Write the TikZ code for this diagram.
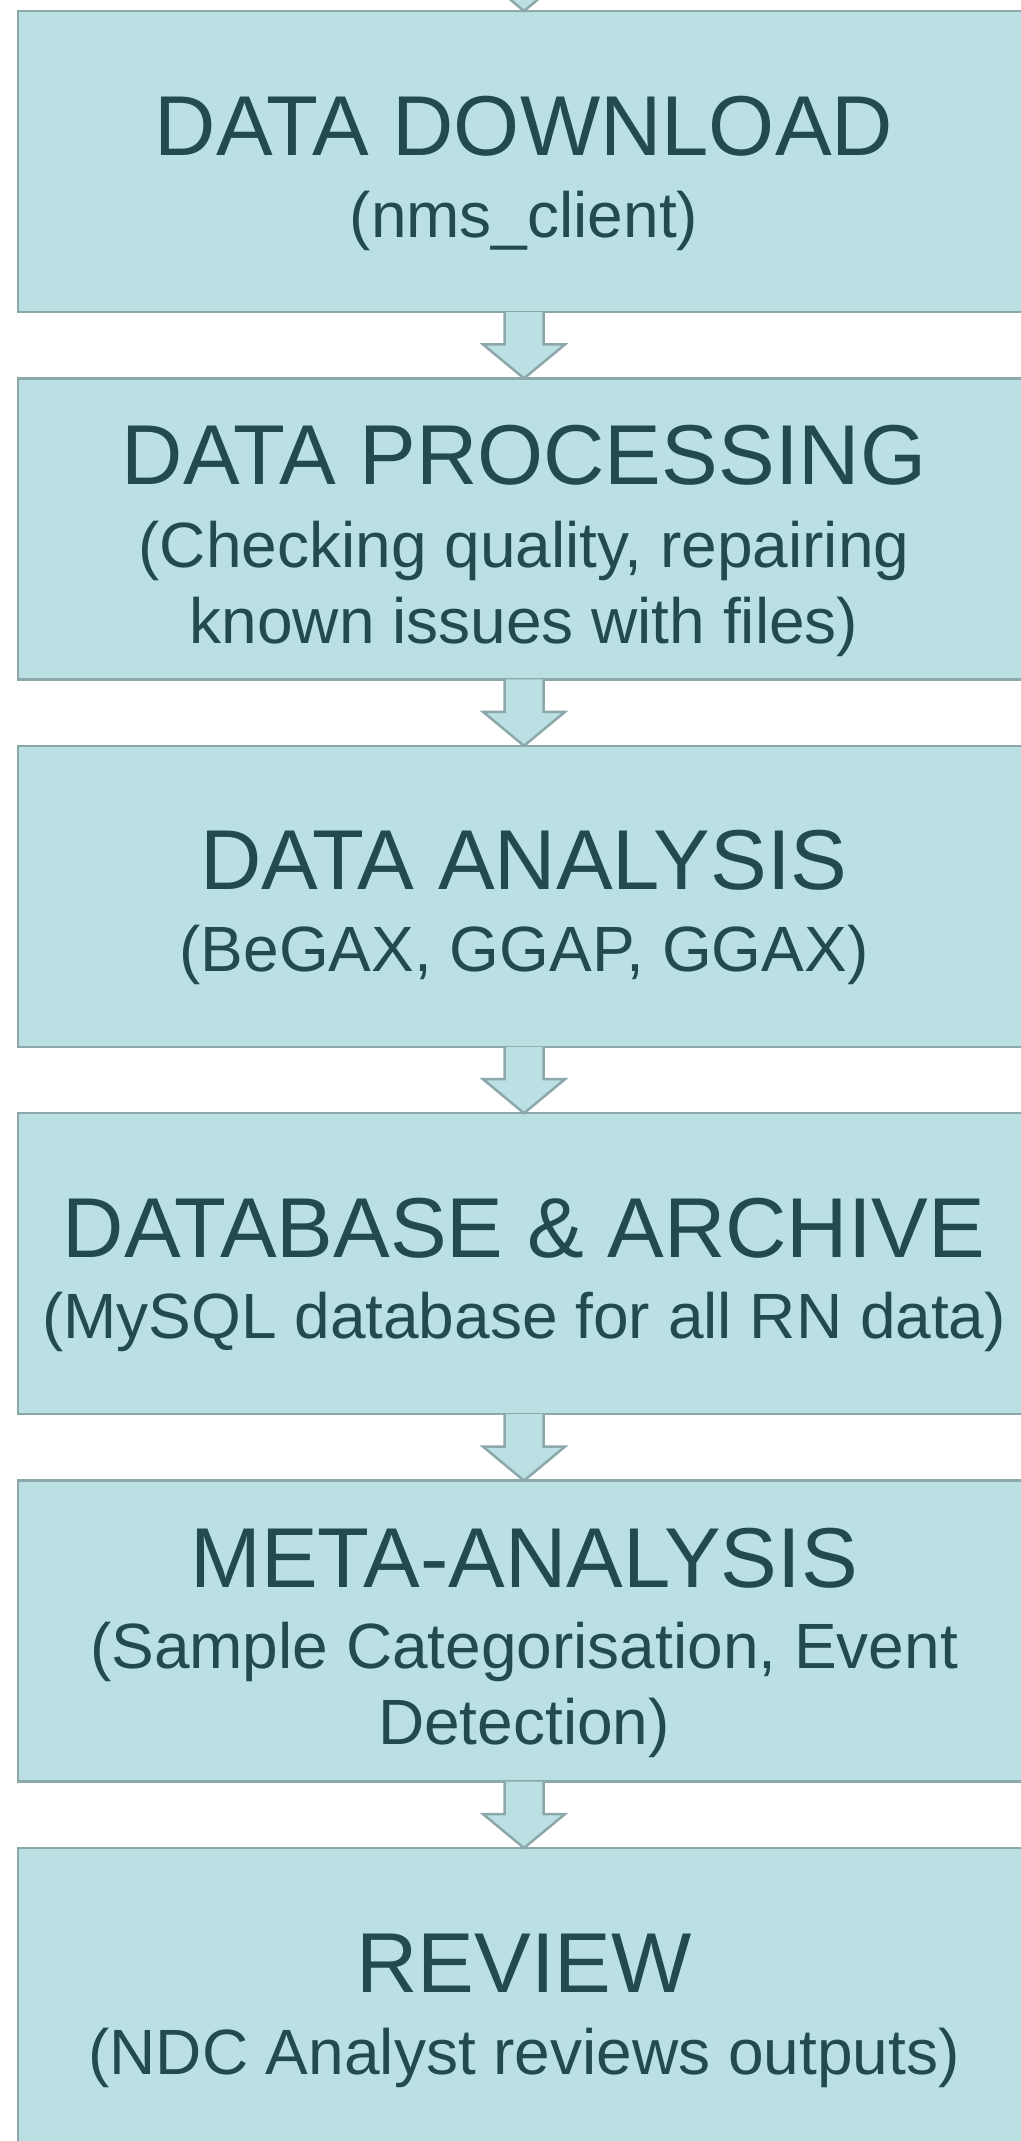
\documentclass[tikz,border=0pt]{standalone}
\usepackage{fontspec}
\setmainfont{Liberation Sans}
\usetikzlibrary{calc}
\definecolor{stagefill}{RGB}{186,224,227}
\definecolor{stageline}{RGB}{140,168,170}
\definecolor{stagetext}{RGB}{34,75,80}

\newcommand{\stagearrow}[2]{%
	\draw[flowarrow] ($(#1)+(-19.5,0)$) -- ($(#2)+(-19.5,34)$) -- ($(#2)+(-41,34)$) -- (#2) -- ($(#2)+(41,34)$) -- ($(#2)+(19.5,34)$) -- ($(#1)+(19.5,0)$);}

\begin{document}
\begin{tikzpicture}[x=1pt,y=1pt,
		stage/.style={draw=stageline,line width=2.5pt,fill=stagefill,minimum width=1012pt,minimum height=301pt,anchor=north,outer sep=0pt,inner sep=0pt},
		stagetitle/.style={text=stagetext,font=\fontsize{85}{100}\selectfont,anchor=base,inner sep=0pt},
		stagesub/.style={text=stagetext,font=\fontsize{64}{76}\selectfont,align=center,anchor=base,inner sep=0pt},
		flowarrow/.style={draw=stageline,line width=2.5pt,fill=stagefill,line join=miter}]
			\useasboundingbox (0,0) rectangle (1020,-2141);
			\node[stage] (dl) at (524,-11) {};
			\node[stage] (proc) at (524,-378.4) {};
			\node[stage] (anal) at (524,-745.8) {};
			\node[stage] (db) at (524,-1113.2) {};
			\node[stage] (meta) at (524,-1480.6) {};
			\node[stage] (rev) at (524,-1848) {};
			\node[stagetitle] (dlt) at ([yshift=-144pt]dl.north) {DATA DOWNLOAD};
			\node[stagesub] (dls) at ([yshift=-226pt]dl.north) {(nms\_client)};
			\node[stagetitle] (proct) at ([yshift=-106pt]proc.north) {DATA PROCESSING};
			\node[stagesub] (procs) at ([yshift=-264.7pt]proc.north) {(Checking quality, repairing\\known issues with files)};
			\node[stagetitle] (analt) at ([yshift=-144pt]anal.north) {DATA ANALYSIS};
			\node[stagesub] (anals) at ([yshift=-226pt]anal.north) {(BeGAX, GGAP, GGAX)};
			\node[stagetitle] (dbt) at ([yshift=-144pt]db.north) {DATABASE \& ARCHIVE};
			\node[stagesub] (dbs) at ([yshift=-225pt]db.north) {(MySQL database for all RN data)};
			\node[stagetitle] (metat) at ([yshift=-107pt]meta.north) {META-ANALYSIS};
			\node[stagesub] (metas) at ([yshift=-264pt]meta.north) {(Sample Categorisation, Event\\Detection)};
			\node[stagetitle] (revt) at ([yshift=-144pt]rev.north) {REVIEW};
			\node[stagesub] (revs) at ([yshift=-226pt]rev.north) {(NDC Analyst reviews outputs)};
			\coordinate (feed) at (524,30);
			\stagearrow{feed}{dl.north}
			\stagearrow{dl.south}{proc.north}
			\stagearrow{proc.south}{anal.north}
			\stagearrow{anal.south}{db.north}
			\stagearrow{db.south}{meta.north}
			\stagearrow{meta.south}{rev.north}
		\end{tikzpicture}
\end{document}
